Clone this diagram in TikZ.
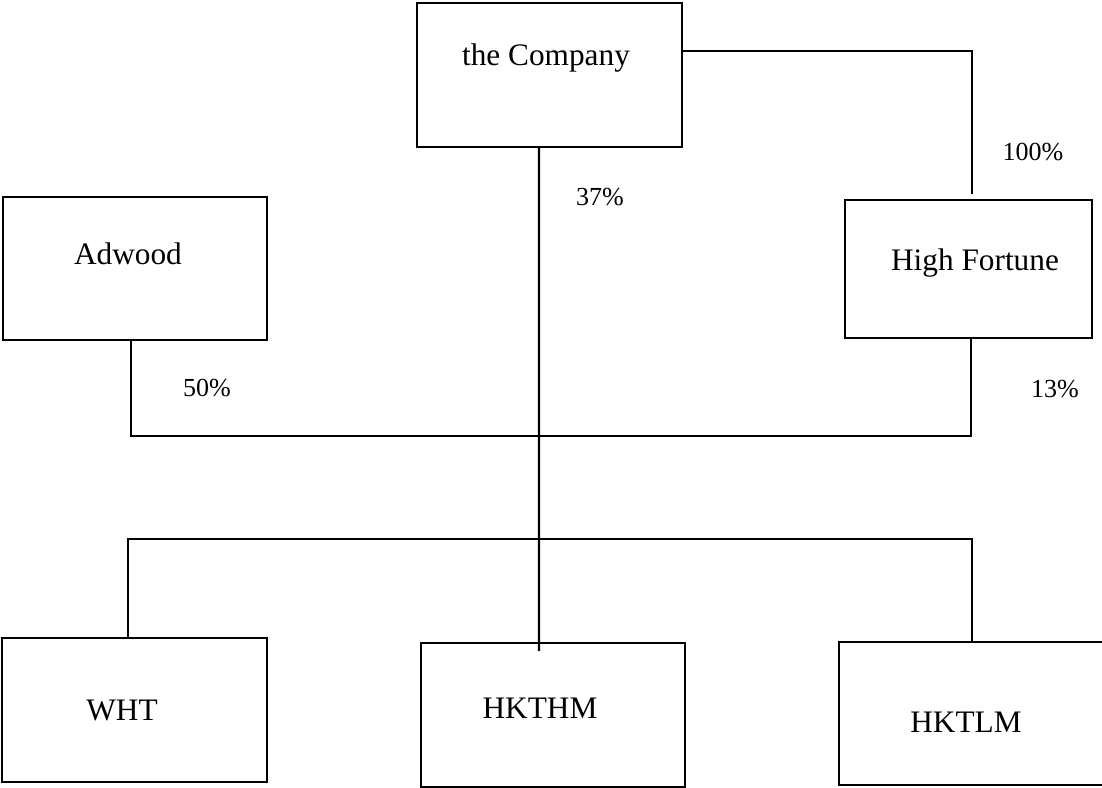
\documentclass[tikz,border=0pt]{standalone}
\usepackage{fontspec}
\setmainfont{Liberation Serif}
\begin{document}
\begin{tikzpicture}[
    x=0.01cm, y=-0.01cm,
    line width=0.6pt,
    firm/.style={rectangle,draw,inner sep=0pt},
    every label/.style={font=\fontsize{8.9}{10}\selectfont},
    share/.style={font=\fontsize{7.4}{9}\selectfont}
]
    \useasboundingbox (0,0) rectangle (1102,787);

    % Define nodes
    \node[firm,minimum width=2.65cm,minimum height=1.44cm,
        label={[xshift=-0.035cm,yshift=0.17cm]center:the Company}] (comp) at (549.5,75) {};
    \node[firm,minimum width=2.64cm,minimum height=1.43cm,
        label={[xshift=-0.07cm,yshift=0.145cm]center:Adwood}] (adwood) at (135,268.5) {};
    \node[firm,minimum width=2.47cm,minimum height=1.38cm,
        label={[xshift=0.065cm,yshift=0.06cm]center:High Fortune}] (hifo) at (968.5,269) {};
    \node[firm,minimum width=2.65cm,minimum height=1.44cm,
        label={[xshift=-0.125cm]center:WHT}] (wht) at (134.5,710) {};
    \node[firm,minimum width=2.64cm,minimum height=1.44cm,
        label={[xshift=-0.13cm,yshift=0.07cm]center:HKTHM}] (hkthm) at (553,715) {};
    \node[firm,minimum width=2.65cm,minimum height=1.43cm,
        label={[xshift=-0.055cm,yshift=-0.085cm]center:HKTLM}] (hktlm) at (971.5,713.5) {};

    % Shareholdings
    \node[share] (pcthifo) at (1033,152) {100\%};
    \node[share] (pcthkthm) at (600,197) {37\%};
    \node[share] (pctadwood) at (207,388) {50\%};
    \node[share] (pcthifodown) at (1055,389) {13\%};

    % Draw connections
    \draw ([yshift=0.24cm]comp.east) -| ([xshift=0.035cm,yshift=0.05cm]hifo.north);
    \draw ([xshift=-0.105cm]comp.south) -- ([xshift=-0.14cm,yshift=-0.09cm]hkthm.north);
    \draw ([xshift=-0.04cm]adwood.south) -- ++(0,95) -| ([xshift=0.025cm]hifo.south);
    \draw ([xshift=-0.065cm]wht.north) -- ++(0,-98) -| ([xshift=0.005cm]hktlm.north);
\end{tikzpicture}
\end{document}
